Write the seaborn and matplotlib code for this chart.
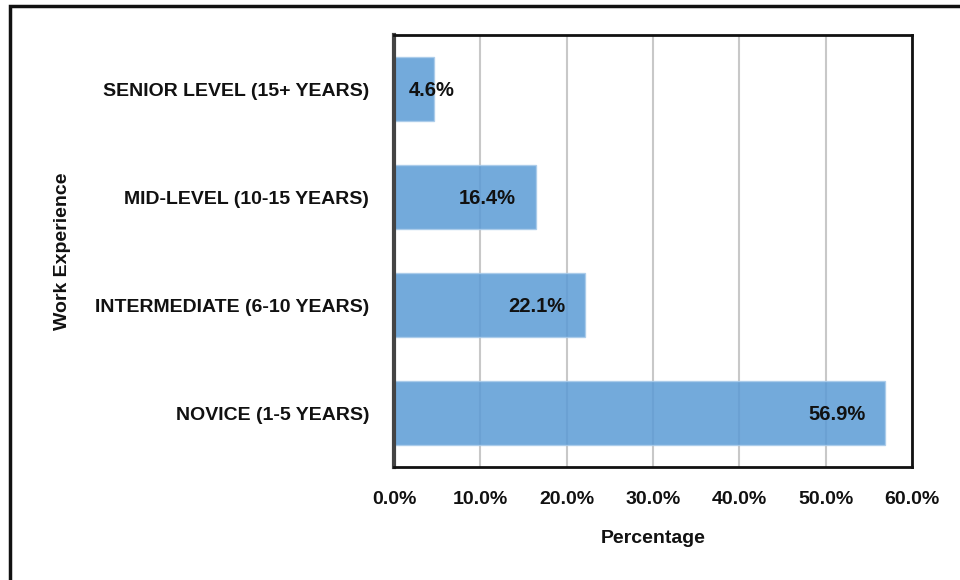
import matplotlib
matplotlib.use("Agg")
import matplotlib.pyplot as plt
import seaborn as sns
import pandas as pd
from matplotlib.patches import Rectangle
from matplotlib.ticker import FuncFormatter

categories = ["SENIOR LEVEL (15+ YEARS)", "MID-LEVEL (10-15 YEARS)",
              "INTERMEDIATE (6-10 YEARS)", "NOVICE (1-5 YEARS)"]
values = [4.6, 16.4, 22.1, 56.9]
xticks = [0, 10, 20, 30, 40, 50, 60]

df = pd.DataFrame({"level": categories, "pct": values})

sns.set_style("white")
plt.rcParams["font.family"] = ["Liberation Sans", "DejaVu Sans"]
plt.rcParams["font.weight"] = "bold"

fig = plt.figure(figsize=(9.6, 5.8), dpi=100)
ax = fig.add_axes([394 / 960, 1 - 467 / 580, (912 - 394) / 960, (467 - 35) / 580])

ax.grid(axis="x", color="#c8c8c8", linewidth=1.5, zorder=0)
ax.set_axisbelow(True)
sns.barplot(data=df, x="pct", y="level", color="#5B9BD5", saturation=1,
            width=0.6, alpha=0.85, edgecolor="#a9cbea", linewidth=1,
            ax=ax, zorder=2)

for i, v in enumerate(values):
    ax.text(max(v - 8.9, 1.7), i, f"{v:.1f}%", ha="left", va="center_baseline",
            fontsize=14.5, fontweight="bold", color="#111111", zorder=3)

ax.set_xlim(0, 60)
ax.set_xticks(xticks)
ax.xaxis.set_major_formatter(FuncFormatter(lambda x, p: f"{x:.1f}%"))
ax.tick_params(axis="both", length=0, labelsize=14, colors="#111111")
ax.tick_params(axis="x", pad=17)
ax.tick_params(axis="y", pad=18)
for lab in ax.get_xticklabels() + ax.get_yticklabels():
    lab.set_fontweight("bold")

ax.set_xlabel("Percentage", fontsize=14, fontweight="bold", labelpad=16,
              color="#111111")
ax.set_ylabel("Work Experience", fontsize=14, fontweight="bold",
              color="#111111")
ax.yaxis.set_label_coords(-0.624, 0.5)

for side in ["top", "right", "bottom"]:
    ax.spines[side].set_color("#111111")
    ax.spines[side].set_linewidth(2)
ax.spines["left"].set_color("#444444")
ax.spines["left"].set_linewidth(3)

fig.patches.append(Rectangle((10 / 960, -0.1), 1.2, 1 - 6 / 580 + 0.1,
                             transform=fig.transFigure, fill=False,
                             edgecolor="#111111", linewidth=2.5))

fig.savefig("out.png", dpi=100)
